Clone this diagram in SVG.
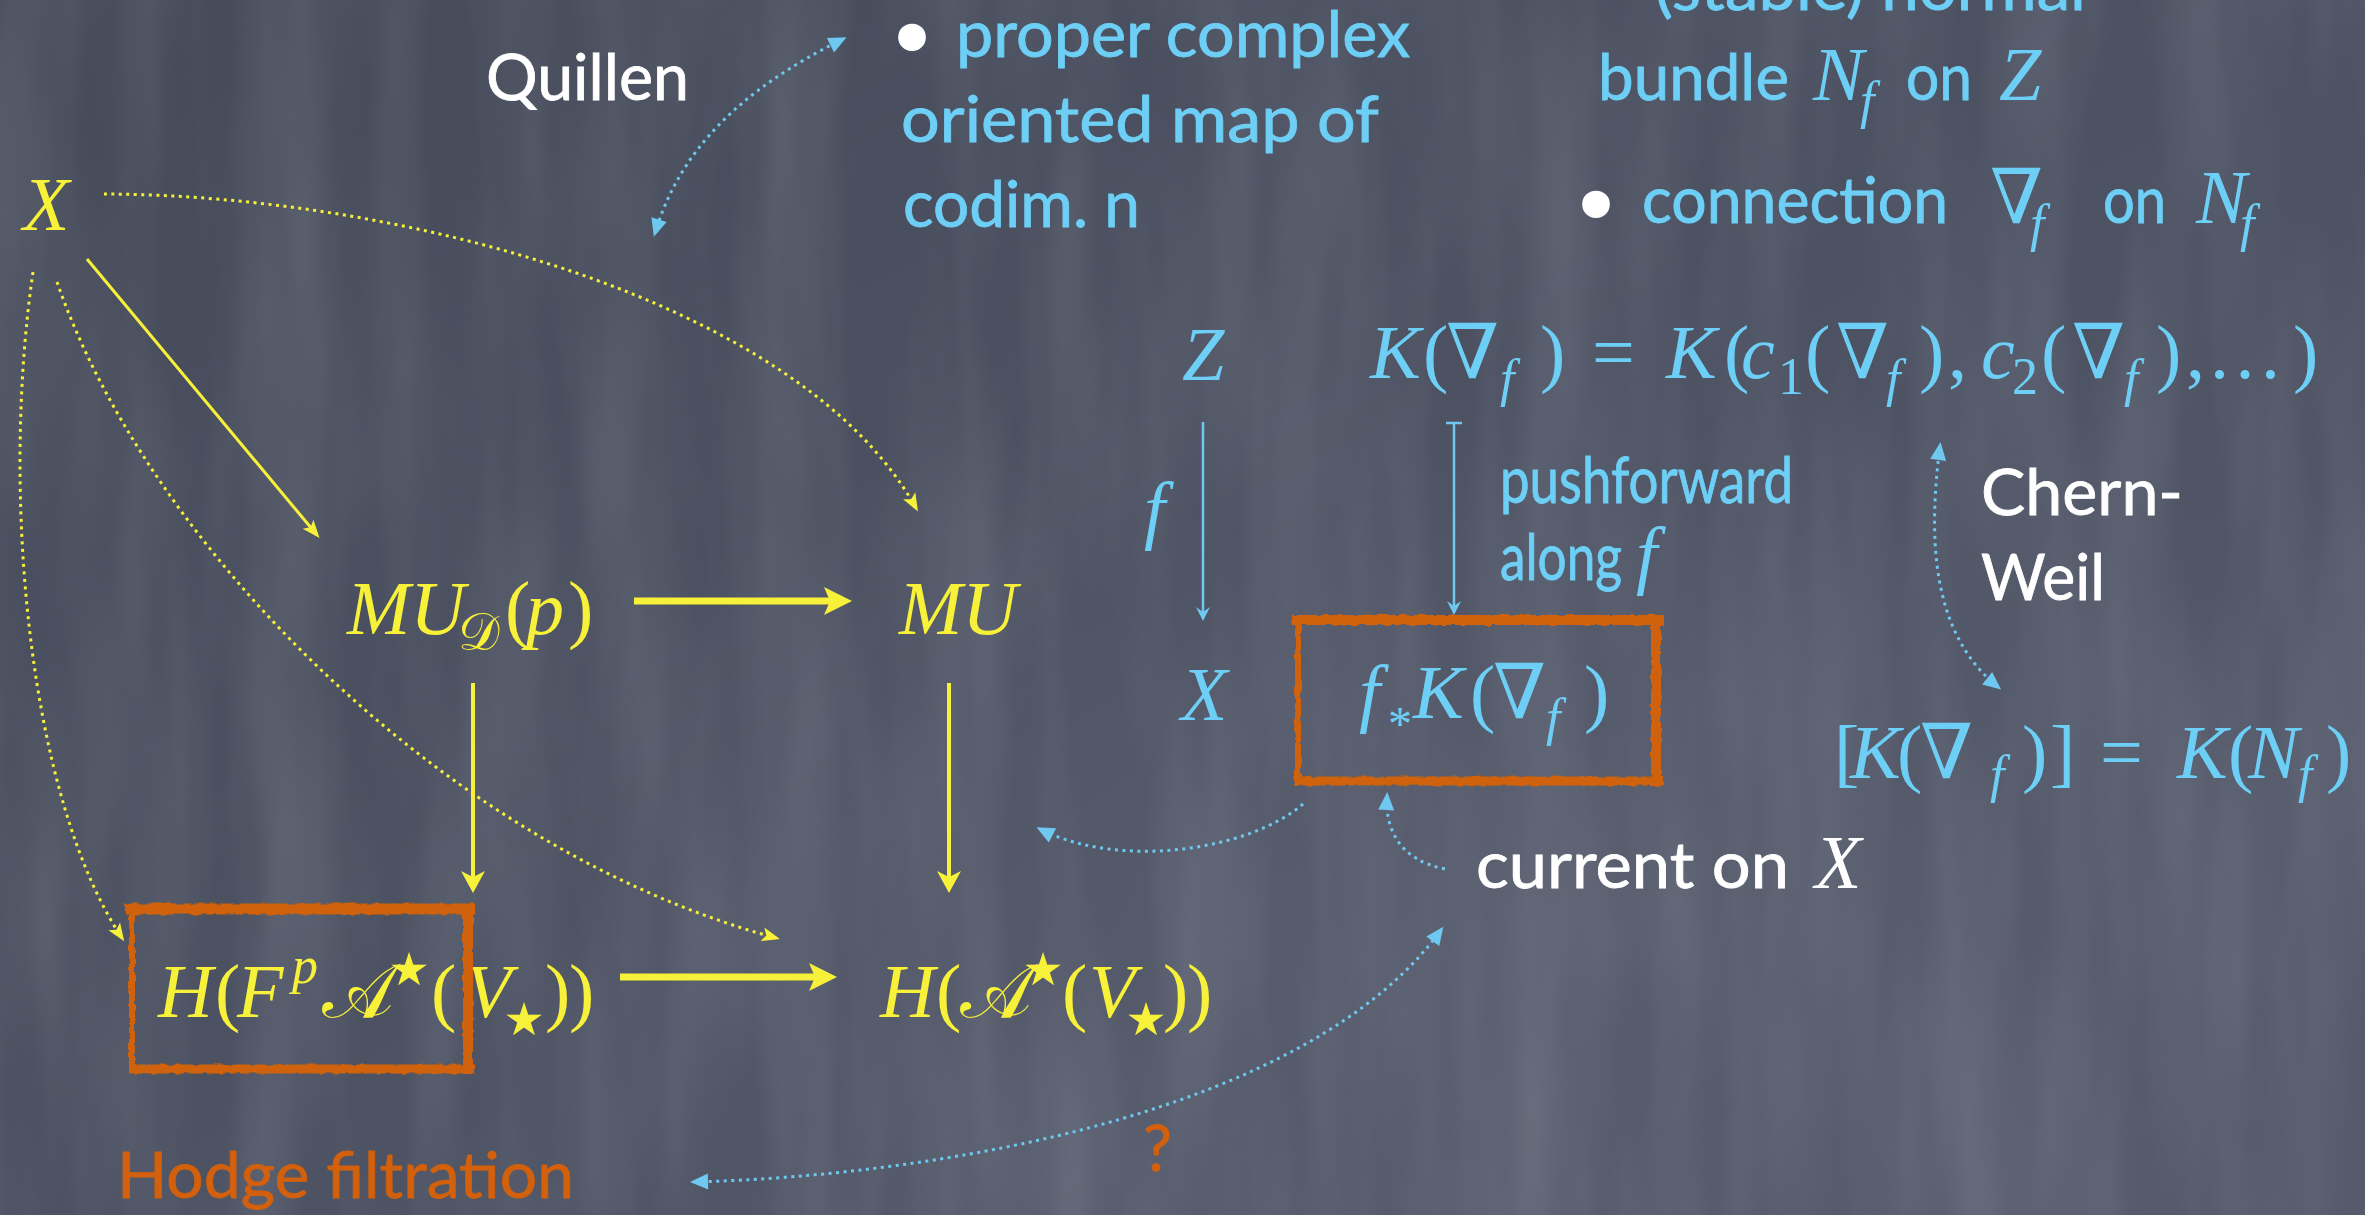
<svg xmlns="http://www.w3.org/2000/svg" width="2365" height="1215" viewBox="0 0 2365 1215">
<style>
.chalk{font-family:Lato,"Open Sans","DejaVu Sans",sans-serif;font-size:64px;stroke-width:0.8}
.chalk.cy{stroke:#6ecff6}
.chalk.wh{stroke:#ffffff}
.chalk.or{stroke:#d2600c}
.bul{font-family:"DejaVu Sans",sans-serif;font-size:95px;fill:#ffffff}
.m{font-family:"Liberation Serif","DejaVu Serif",serif;font-style:italic;font-size:76px}
.up{font-style:normal}
.s{font-size:52px}
.scr{font-family:"DejaVu Serif","DejaVu Sans","Noto Sans",serif;font-style:normal}
.star{font-family:"DejaVu Sans",sans-serif;font-style:normal;font-size:92px;text-anchor:middle}
.cy{fill:#6ecff6}
.wh{fill:#ffffff}
.yl{fill:#f8f13a}
.or{fill:#d2600c}
.ly{stroke:#f8f13a;fill:none}
.lb{stroke:#6ec8f0;fill:none}
.dot{stroke-width:3;stroke-dasharray:3 4.5}
.box{stroke:#d0620c;fill:none}
</style>
<defs>
<linearGradient id="bg" x1="0" y1="0" x2="1" y2="1">
<stop offset="0" stop-color="#454b59"/>
<stop offset="0.5" stop-color="#4c5262"/>
<stop offset="1" stop-color="#555b6b"/>
</linearGradient>
<radialGradient id="glow" cx="0.62" cy="0.75" r="0.45">
<stop offset="0" stop-color="#6a7080" stop-opacity="0.3"/>
<stop offset="1" stop-color="#6a7080" stop-opacity="0"/>
</radialGradient>
<filter id="noise" x="0" y="0" width="100%" height="100%">
<feTurbulence type="fractalNoise" baseFrequency="0.012 0.002" numOctaves="3" seed="4"/>
<feColorMatrix type="matrix" values="0 0 0 0 0.72  0 0 0 0 0.75  0 0 0 0 0.82  0.22 0 0 0 -0.07"/>
</filter>
<filter id="rough" x="-5%" y="-8%" width="110%" height="116%">
<feTurbulence type="fractalNoise" baseFrequency="0.12" numOctaves="2" seed="7" result="t"/>
<feDisplacementMap in="SourceGraphic" in2="t" scale="4" xChannelSelector="R" yChannelSelector="G"/>
</filter>
<marker id="ahYb" markerWidth="40" markerHeight="40" refX="0" refY="0" orient="auto" markerUnits="userSpaceOnUse" overflow="visible"><path d="M14,0 L-14,-14 L-8,0 L-14,14 Z" fill="#f8f13a"/></marker>
<marker id="ahYm" markerWidth="40" markerHeight="40" refX="0" refY="0" orient="auto" markerUnits="userSpaceOnUse" overflow="visible"><path d="M10,0 L-12,-12 L-6,0 L-12,12 Z" fill="#f8f13a"/></marker>
<marker id="ahYs" markerWidth="30" markerHeight="30" refX="0" refY="0" orient="auto" markerUnits="userSpaceOnUse" overflow="visible"><path d="M4,0 L-14,-7 L-10,0 L-14,7 Z" fill="#f8f13a"/></marker>
<marker id="ahB" markerWidth="30" markerHeight="30" refX="0" refY="0" orient="auto-start-reverse" markerUnits="userSpaceOnUse" overflow="visible"><path d="M4,0 L-14,-8 L-14,8 Z" fill="#6ec8f0"/></marker>
<marker id="ahBt" markerWidth="30" markerHeight="30" refX="0" refY="0" orient="auto" markerUnits="userSpaceOnUse" overflow="visible"><path d="M3,0 L-11,-7 L-6,0 L-11,7 Z" fill="#6ec8f0"/></marker>
</defs>

<g id="background">
<rect width="2365" height="1215" fill="url(#bg)"/>
<rect width="2365" height="1215" fill="url(#glow)"/>
<rect width="2365" height="1215" filter="url(#noise)"/>
</g>

<g id="connectors">
<path class="ly" stroke-width="3" d="M87,259 L317,535" marker-end="url(#ahYs)"/>
<path class="ly" stroke-width="7" d="M634,601 L838,601" marker-end="url(#ahYb)"/>
<path class="ly" stroke-width="4" d="M473,683 L473,883" marker-end="url(#ahYm)"/>
<path class="ly" stroke-width="4" d="M949,683 L949,883" marker-end="url(#ahYm)"/>
<path class="ly" stroke-width="7" d="M620,977 L823,977" marker-end="url(#ahYb)"/>
<path class="ly dot" d="M104,194 C400,195 800,300 916,508" marker-end="url(#ahYs)"/>
<path class="ly dot" d="M57,282 C150,550 450,850 776,938" marker-end="url(#ahYs)"/>
<path class="ly dot" d="M33,272 C0,500 30,800 122,938" marker-end="url(#ahYs)"/>
<path class="lb dot" d="M843,39 C740,90 680,150 655,233" marker-start="url(#ahB)" marker-end="url(#ahB)"/>
<path class="lb" stroke-width="2.5" d="M1203,422 L1203,618" marker-end="url(#ahBt)"/>
<path class="lb" stroke-width="2.5" d="M1454,423 L1454,612" marker-end="url(#ahBt)"/>
<path class="lb" stroke-width="2.5" d="M1446,423 L1462,423"/>
<path class="lb dot" d="M1303,804 C1250,850 1120,870 1040,829" marker-end="url(#ahB)"/>
<path class="lb dot" d="M1445,869 C1400,860 1385,830 1387,796" marker-end="url(#ahB)"/>
<path class="lb dot" d="M1940,446 C1925,560 1940,640 1998,687" marker-start="url(#ahB)" marker-end="url(#ahB)"/>
<path class="lb dot" d="M694,1182 C950,1175 1310,1110 1441,930" marker-start="url(#ahB)" marker-end="url(#ahB)"/>
</g>

<g id="quillen"><text class="chalk wh" x="486" y="100" textLength="203" lengthAdjust="spacingAndGlyphs">Quillen</text></g>

<g id="proper-map">
<text class="bul" x="884" y="72">•</text>
<text class="chalk cy" x="956" y="57" textLength="454" lengthAdjust="spacingAndGlyphs">proper complex</text>
<text class="chalk cy" x="901" y="142" textLength="478" lengthAdjust="spacingAndGlyphs">oriented map of</text>
<text class="chalk cy" x="903" y="227" textLength="237" lengthAdjust="spacingAndGlyphs">codim. n</text>
</g>

<g id="normal-bundle">
<text class="chalk cy" x="1655" y="10" textLength="431" lengthAdjust="spacingAndGlyphs">(stable) normal</text>
<text class="chalk cy" x="1598" y="100" textLength="191" lengthAdjust="spacingAndGlyphs">bundle</text>
<text class="m cy" y="100"><tspan x="1813">N</tspan><tspan class="s" x="1860" y="118">f</tspan></text>
<text class="chalk cy" x="1906" y="100" textLength="66" lengthAdjust="spacingAndGlyphs">on</text>
<text class="m cy" x="1999" y="100">Z</text>
</g>

<g id="connection">
<text class="bul" x="1568" y="239">•</text>
<text class="chalk cy" x="1642" y="223" textLength="306" lengthAdjust="spacingAndGlyphs">connection</text>
<text class="m cy" y="223"><tspan class="up" x="1990">∇</tspan><tspan class="s" x="2030" y="241">f</tspan></text>
<text class="chalk cy" x="2103" y="223" textLength="63" lengthAdjust="spacingAndGlyphs">on</text>
<text class="m cy" y="223"><tspan x="2196">N</tspan><tspan class="s" x="2240" y="241">f</tspan></text>
</g>

<g id="node-X-top"><text class="m yl" x="23" y="230">X</text></g>

<g id="node-MUD">
<text class="m yl" y="634"><tspan x="347">MU</tspan><tspan class="s scr" x="458" y="650">𝒟</tspan><tspan class="up" x="505" y="634">(</tspan><tspan x="526">p</tspan><tspan class="up" x="568">)</tspan></text>
</g>

<g id="node-MU"><text class="m yl" x="899" y="634">MU</text></g>

<g id="node-HF">
<text class="m yl" y="1017"><tspan x="158">H</tspan><tspan class="up" x="215">(</tspan><tspan x="237">F</tspan><tspan class="s" x="292" y="983">p</tspan><tspan class="scr" x="322" y="1017">𝒜</tspan><tspan class="star" x="409" y="999">⋆</tspan><tspan class="up" x="431" y="1017">(</tspan><tspan x="465">V</tspan><tspan class="star" x="524" y="1049">⋆</tspan><tspan class="up" x="545" y="1017">)</tspan><tspan class="up" x="569">)</tspan></text>
<g filter="url(#rough)">
<path class="box" stroke-width="11" d="M125,909 L475,909"/>
<path class="box" stroke-width="6" d="M132,905 L132,1073"/>
<path class="box" stroke-width="10" d="M468,905 L468,1074"/>
<path class="box" stroke-width="9" d="M129,1069 L475,1069"/>
</g>
</g>

<g id="node-HA">
<text class="m yl" y="1017"><tspan x="880">H</tspan><tspan class="up" x="936">(</tspan><tspan class="scr" x="960">𝒜</tspan><tspan class="star" x="1043" y="999">⋆</tspan><tspan class="up" x="1062" y="1017">(</tspan><tspan x="1089">V</tspan><tspan class="star" x="1146" y="1049">⋆</tspan><tspan class="up" x="1163" y="1017">)</tspan><tspan class="up" x="1187">)</tspan></text>
</g>

<g id="node-Z"><text class="m cy" x="1182" y="380">Z</text></g>
<g id="node-X-right"><text class="m cy" x="1181" y="720">X</text></g>
<g id="label-f"><text class="m cy" x="1144" y="535" font-size="62">f</text></g>

<g id="node-KNabla">
<text class="m cy" y="378"><tspan x="1370">K</tspan><tspan class="up" x="1423">(</tspan><tspan class="up" x="1446">∇</tspan><tspan class="s" x="1500" y="396">f</tspan><tspan class="up" x="1540" y="378">)</tspan><tspan class="up" x="1592">=</tspan><tspan x="1666">K</tspan><tspan class="up" x="1724">(</tspan><tspan x="1741">c</tspan><tspan class="up s" x="1778" y="394">1</tspan><tspan class="up" x="1805" y="378">(</tspan><tspan class="up" x="1836">∇</tspan><tspan class="s" x="1886" y="396">f</tspan><tspan class="up" x="1919" y="378">)</tspan><tspan class="up" x="1948">,</tspan><tspan x="1981">c</tspan><tspan class="up s" x="2012" y="394">2</tspan><tspan class="up" x="2041" y="378">(</tspan><tspan class="up" x="2072">∇</tspan><tspan class="s" x="2124" y="396">f</tspan><tspan class="up" x="2156" y="378">)</tspan><tspan class="up" x="2186">,</tspan><tspan class="up" x="2207">…</tspan><tspan class="up" x="2293">)</tspan></text>
</g>

<g id="pushforward-label">
<text class="chalk cy" x="1500" y="503" textLength="293" lengthAdjust="spacingAndGlyphs">pushforward</text>
<text class="chalk cy" x="1500" y="580" textLength="122" lengthAdjust="spacingAndGlyphs">along</text>
<text class="m cy" x="1636" y="580" font-size="62">f</text>
</g>

<g id="node-fK">
<text class="m cy" y="718"><tspan x="1359">f</tspan><tspan class="up" x="1388" y="740" font-size="48">*</tspan><tspan x="1413" y="718">K</tspan><tspan class="up" x="1470">(</tspan><tspan class="up" x="1493">∇</tspan><tspan class="s" x="1546" y="735">f</tspan><tspan class="up" x="1584" y="718">)</tspan></text>
<g filter="url(#rough)">
<path class="box" stroke-width="10" d="M1292,620 L1664,620"/>
<path class="box" stroke-width="6" d="M1298,616 L1298,786"/>
<path class="box" stroke-width="10" d="M1656,615 L1656,786"/>
<path class="box" stroke-width="9" d="M1294,781 L1663,781"/>
</g>
</g>

<g id="chern-weil">
<text class="chalk wh" x="1981" y="515" textLength="202" lengthAdjust="spacingAndGlyphs">Chern-</text>
<text class="chalk wh" x="1981" y="600" textLength="124" lengthAdjust="spacingAndGlyphs">Weil</text>
</g>

<g id="node-KN">
<text class="m cy" y="778"><tspan class="up" x="1834">[</tspan><tspan x="1850">K</tspan><tspan class="up" x="1897">(</tspan><tspan class="up" x="1920">∇</tspan><tspan class="s" x="1990" y="792">f</tspan><tspan class="up" x="2022" y="778">)</tspan><tspan class="up" x="2050">]</tspan><tspan class="up" x="2100">=</tspan><tspan x="2177">K</tspan><tspan class="up" x="2228">(</tspan><tspan x="2248">N</tspan><tspan class="s" x="2298" y="792">f</tspan><tspan class="up" x="2326" y="778">)</tspan></text>
</g>

<g id="current-label">
<text class="chalk wh" x="1476" y="888" textLength="313" lengthAdjust="spacingAndGlyphs">current on</text>
<text class="m wh" x="1815" y="888">X</text>
</g>

<g id="hodge-label"><text class="chalk or" x="117" y="1198" textLength="457" lengthAdjust="spacingAndGlyphs">Hodge filtration</text></g>
<g id="question"><text class="chalk or" x="1143" y="1171" textLength="29" lengthAdjust="spacingAndGlyphs">?</text></g>
</svg>
